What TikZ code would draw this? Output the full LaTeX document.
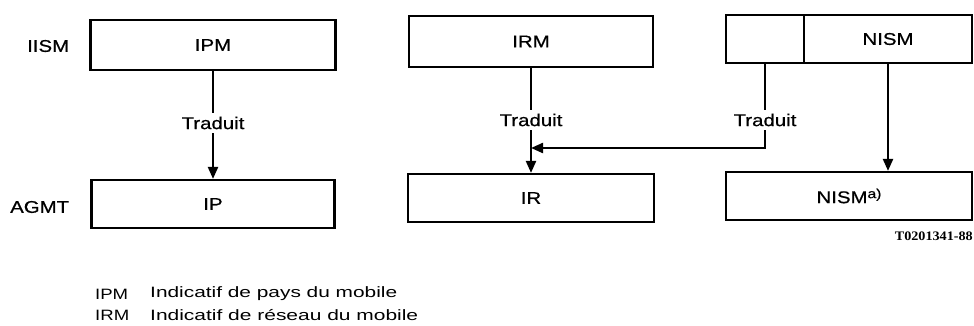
\documentclass[tikz,border=0pt]{standalone}
\usepackage{fontspec}
\setmainfont{Liberation Sans}
\newfontfamily\labfont[FakeStretch=1.2,FakeBold=0.6]{Liberation Sans}
\newfontfamily\legfont{Liberation Sans}
\newfontfamily\codefont{Liberation Serif}
\newcommand{\legtxt}[2]{\resizebox{#1}{\height}{#2}}
\usetikzlibrary{arrows.meta}
\begin{document}
\begin{tikzpicture}[x=1pt,y=-1pt,
  every node/.style={font=\labfont\fontsize{17}{20}\selectfont},
  box/.style={draw, line width=2.2pt, inner sep=0pt, minimum height=48pt},
  lbl/.style={inner sep=4pt, minimum height=20pt},
  conn/.style={line width=2.2pt},
  arr/.style={line width=2.2pt, -{Triangle[length=12pt,width=10pt]}},
  legend/.style={anchor=west, inner sep=0pt, font=\legfont\fontsize{15}{18}\selectfont}]
\useasboundingbox (0,0) rectangle (974,325);
% top row
\node[anchor=west, inner sep=0pt] (iism) at (27,46) {IISM};
\node[box, minimum width=245pt, minimum height=50pt] (ipm) at (213,45) {IPM};
\node[box, minimum width=244pt, minimum height=51pt] (irm) at (531,41.5) {IRM};
\node[box, minimum width=78pt] (nsl) at (765,39) {};
\node[box, minimum width=168pt] (nism) at (888,39) {NISM};
% bottom row
\node[anchor=west, inner sep=0pt] (agmt) at (10,207) {AGMT};
\node[box, minimum width=243pt] (ip) at (213,204) {IP};
\node[box, minimum width=246pt] (ir) at (531,198) {IR};
\node[box, minimum width=246pt] (nisma) at (849,196) {NISM\raisebox{5pt}{\fontsize{13}{14}\selectfont a)}};
% Traduit labels
\node[lbl] (t1) at (213,123) {Traduit};
\node[lbl] (t2) at (531,120) {Traduit};
\node[lbl] (t3) at (765,120) {Traduit};
\coordinate (j) at (531,148);
% connectors
\draw[conn] (ipm.south) -- (t1.north);
\draw[arr] (t1.south) -- (t1.south |- ip.north);
\draw[conn] (irm.south -| t2) -- (t2.north);
\draw[arr] (t2.south) -- (t2.south |- ir.north);
\draw[conn] (nsl.south) -- (t3.north);
\draw[arr] (t3.south) |- (j);
\draw[arr] (nism.south) -- (nism.south |- nisma.north);
% code
\node[anchor=east, inner sep=0pt, font=\codefont\bfseries\fontsize{13}{15}\selectfont] (code) at (973,236) {\resizebox{78pt}{\height}{T0201341-88}};
% legend
\node[legend] (k1) at (95,294) {\legtxt{33pt}{IPM}};
\node[legend] (d1) at (150,294) {\legtxt{247pt}{Indicatif de pays du mobile}};
\node[legend] (k2) at (95,315) {\legtxt{34pt}{IRM}};
\node[legend] (d2) at (150,315) {\legtxt{268pt}{Indicatif de réseau du mobile}};
\end{tikzpicture}
\end{document}
